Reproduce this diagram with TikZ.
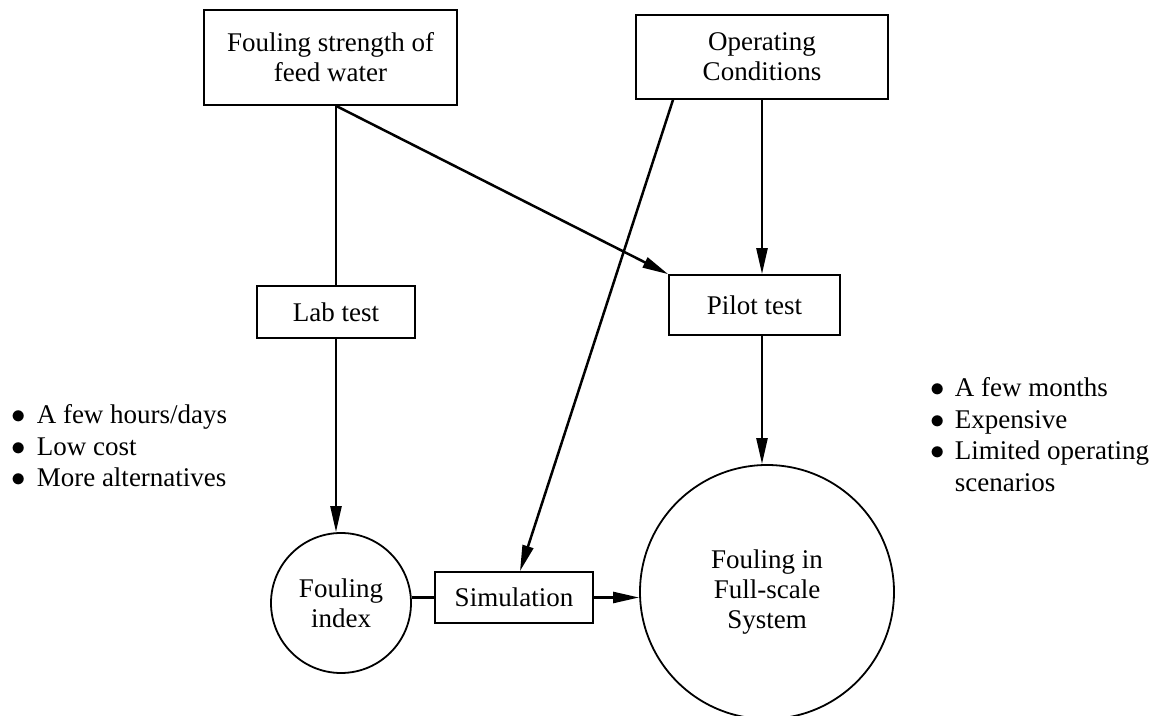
\documentclass[tikz,border=0pt]{standalone}
\usepackage{fontspec}
\setmainfont{Liberation Serif}
\usetikzlibrary{arrows.meta}
\tikzstyle{stage} = [
 rectangle,
 draw,
 line width=0.85pt,
 align = center,
 inner sep=0pt
]
\tikzstyle{outcome} = [
 circle,
 draw,
 line width=0.9pt,
 align = center,
 inner sep=0pt
]
\tikzstyle{link} = [
 line width=1.25pt
]
\tikzstyle{flow} = [
 link,
 -{Triangle[length=13pt,width=5.5pt]}
]
\tikzstyle{notes} = [
 anchor=west,
 align=left,
 inner sep=0pt,
 font=\fontsize{13.5}{15.75}\selectfont
]

\begin{document}
\begin{tikzpicture}[x=0.5pt,y=-0.5pt,font=\fontsize{13.5}{15}\selectfont]
  \useasboundingbox (0,0) rectangle (1153,716);
  \node [stage, minimum width=126.5pt, minimum height=47.5pt] (fw) at (330.5,57.5) {Fouling strength of\\feed water};
  \node [stage, minimum width=126pt, minimum height=42pt] (ops) at (762,57) {Operating\\Conditions};
  \node [stage, minimum width=79pt, minimum height=26pt] (lab) at (336,312) {Lab test};
  \node [stage, minimum width=85.5pt, minimum height=30pt] (pilot) at (754.5,305) {Pilot test};
  \node [outcome, minimum size=70pt] (fi) at (341,603) {Fouling\\index};
  \node [stage, minimum width=79pt, minimum height=25.5pt] (sim) at (514,597.5) {Simulation};
  \node [outcome, minimum size=127pt] (full) at (767,592) {Fouling in\\Full-scale\\System};
  \node [notes] (labnotes) at (11,449) {\begin{tabular}{@{}l@{\hspace{5.5pt}}l@{}}
    $\bullet$ & A few hours/days\\
    $\bullet$ & Low cost\\
    $\bullet$ & More alternatives
  \end{tabular}};
  \node [notes] (pilotnotes) at (930,437.5) {\begin{tabular}{@{}l@{\hspace{5pt}}l@{}}
    $\bullet$ & A few months\\
    $\bullet$ & Expensive\\
    $\bullet$ & Limited operating\\
    & scenarios
  \end{tabular}};
  \draw [link] (lab.north |- fw.south) -- (lab.north);
  \draw [flow] (lab.north |- fw.south) -- (pilot.north west);
  \draw [flow] (lab.south) -- (lab.south |- fi.north);
  \draw [flow] ([xshift=-44.5pt]ops.south) -- ([xshift=3pt]sim.north);
  \draw [flow] (ops.south) -- (ops.south |- pilot.north);
  \draw [flow] (ops.south |- pilot.south) -- (ops.south |- full.north);
  \draw [link] (sim.west) -- (sim.west -| fi.east);
  \draw [flow] (sim.east) -- (sim.east -| full.west);
\end{tikzpicture}
\end{document}
